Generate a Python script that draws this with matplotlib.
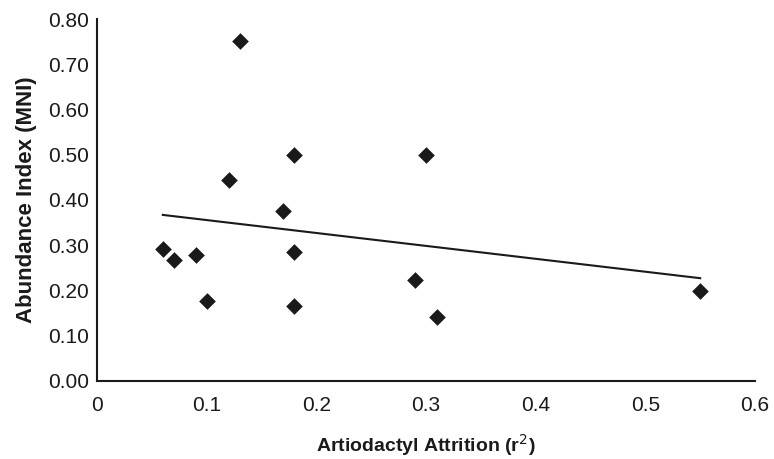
import numpy as np
import matplotlib.pyplot as plt

plt.rcParams['font.family'] = ['Liberation Sans', 'DejaVu Sans']

# data
attrition = [0.06, 0.07, 0.09, 0.10, 0.12, 0.13, 0.17, 0.18, 0.18, 0.18, 0.29, 0.30, 0.31, 0.55]
abundance = [0.292, 0.267, 0.278, 0.177, 0.444, 0.751, 0.376, 0.50, 0.285, 0.166, 0.223, 0.50, 0.141, 0.199]

x_ticks = [0, 0.1, 0.2, 0.3, 0.4, 0.5, 0.6]
x_tick_labels = ['0', '0.1', '0.2', '0.3', '0.4', '0.5', '0.6']
y_ticks = [0.0, 0.1, 0.2, 0.3, 0.4, 0.5, 0.6, 0.7, 0.8]

x = np.array(attrition)
y = np.array(abundance)
slope, intercept = np.polyfit(x, y, 1)  # linear trend line
xl = np.array([x.min(), x.max()])

fig = plt.figure(figsize=(7.74, 4.59), dpi=100)
ax = fig.add_axes([0.1253, 0.170, 0.8502, 0.7886])

ax.plot(xl, slope * xl + intercept, color='#1a1a1a', linewidth=1.5, zorder=2)
ax.scatter(x, y, marker='D', s=72, color='#1a1a1a', zorder=3, linewidths=0)

ax.set_xlim(0, 0.6)
ax.set_ylim(0, 0.8)
ax.set_xticks(x_ticks)
ax.set_xticklabels(x_tick_labels, fontsize=15)
ax.set_yticks(y_ticks)
ax.set_yticklabels([f'{v:.2f}' for v in y_ticks], fontsize=15)
ax.tick_params(axis='x', length=0, pad=11, colors='#1a1a1a')
ax.tick_params(axis='y', length=0, pad=6, colors='#1a1a1a')

for s in ['top', 'right']:
    ax.spines[s].set_visible(False)
for s in ['left', 'bottom']:
    ax.spines[s].set_linewidth(1.5)
    ax.spines[s].set_color('#1a1a1a')

ax.set_xlabel('Artiodactyl Attrition (r$^2$)', fontsize=14, fontweight='bold',
              labelpad=12, color='#1a1a1a')
ax.set_ylabel('Abundance Index (MNI)', fontsize=16, fontweight='bold', labelpad=8, color='#1a1a1a')

fig.savefig('out.png', dpi=100)
